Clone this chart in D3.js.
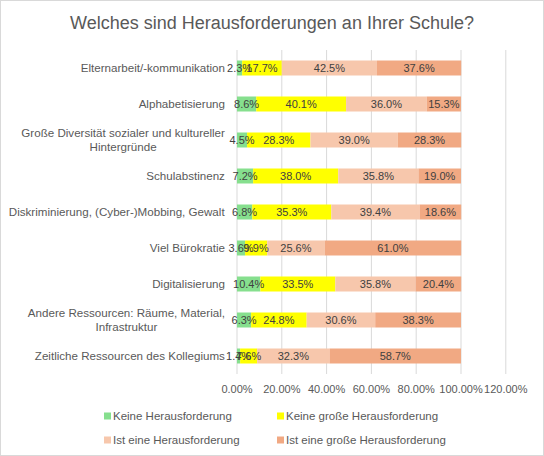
<!DOCTYPE html>
<html><head><meta charset="utf-8">
<script src="https://cdn.jsdelivr.net/npm/d3@7"></script>
<style>
html,body{margin:0;padding:0;background:#fff;}
svg{display:block;font-family:"Liberation Sans",Arial,sans-serif;}
</style></head>
<body>
<svg id="chart" width="544" height="456"></svg>
<script>
const title = "Welches sind Herausforderungen an Ihrer Schule?";
const categories = [
  ["Elternarbeit/-kommunikation"],
  ["Alphabetisierung"],
  ["Große Diversität sozialer und kultureller", "Hintergründe"],
  ["Schulabstinenz"],
  ["Diskriminierung, (Cyber-)Mobbing, Gewalt"],
  ["Viel Bürokratie"],
  ["Digitalisierung"],
  ["Andere Ressourcen: Räume, Material,", "Infrastruktur"],
  ["Zeitliche Ressourcen des Kollegiums"]
];
const seriesNames = ["Keine Herausforderung", "Keine große Herausforderung", "Ist eine Herausforderung", "Ist eine große Herausforderung"];
const seriesColors = ["#86DF8E", "#FFFF00", "#F7C7AC", "#F1A983"];
const keineHerausforderung     = [2.3, 8.6, 4.5, 7.2, 6.8, 3.6, 10.4, 6.3, 1.4];
const keineGrosseHerausforderung = [17.7, 40.1, 28.3, 38.0, 35.3, 9.9, 33.5, 24.8, 7.6];
const istEineHerausforderung   = [42.5, 36.0, 39.0, 35.8, 39.4, 25.6, 35.8, 30.6, 32.3];
const istEineGrosseHerausforderung = [37.6, 15.3, 28.3, 19.0, 18.6, 61.0, 20.4, 38.3, 58.7];
const tickValues = [0, 20, 40, 60, 80, 100, 120];

const svg = d3.select("#chart");
svg.append("rect").attr("x",0.5).attr("y",0.5).attr("width",543).attr("height",455)
  .attr("fill","#fff").attr("stroke","#d9d9d9");

svg.append("text").attr("x",272).attr("y",29).attr("text-anchor","middle")
  .attr("font-size",18).attr("fill","#595959").text(title);

const rows = categories.map((c,i)=>({
  key: c.join(" "), lines: c,
  s0: keineHerausforderung[i], s1: keineGrosseHerausforderung[i],
  s2: istEineHerausforderung[i], s3: istEineGrosseHerausforderung[i]
}));

const x = d3.scaleLinear().domain([0,120]).range([237, 505.8]);
const y = d3.scaleBand().domain(rows.map(r=>r.key)).range([50,374])
  .paddingInner(21/36).paddingOuter(21/72);

// gridlines
svg.append("g").selectAll("line").data(tickValues).join("line")
  .attr("x1",d=>x(d)).attr("x2",d=>x(d)).attr("y1",50).attr("y2",374)
  .attr("stroke","#d9d9d9").attr("stroke-width",1);

// x tick labels
svg.append("g").selectAll("text").data(tickValues).join("text")
  .attr("x",d=>x(d)).attr("y",393).attr("text-anchor","middle")
  .attr("font-size",11).attr("fill","#595959")
  .text(d=>d3.format(".2f")(d)+"%");

const stack = d3.stack().keys(["s0","s1","s2","s3"]);
const stacked = stack(rows);

const g = svg.append("g");
stacked.forEach((layer,li)=>{
  g.append("g").selectAll("rect").data(layer).join("rect")
    .attr("x",d=>x(d[0])).attr("width",d=>x(d[1])-x(d[0]))
    .attr("y",d=>y(d.data.key)).attr("height",y.bandwidth())
    .attr("fill",seriesColors[li]);
});
stacked.forEach((layer,li)=>{
  g.append("g").selectAll("text").data(layer).join("text")
    .attr("x",d=>(x(d[0])+x(d[1]))/2)
    .attr("y",d=>y(d.data.key)+y.bandwidth()/2+4)
    .attr("text-anchor","middle").attr("font-size",11).attr("fill","#404040")
    .text(d=>d3.format(".1f")(d[1]-d[0])+"%");
});

// category labels
const lab = svg.append("g");
rows.forEach(r=>{
  const cy = y(r.key)+y.bandwidth()/2;
  const n = r.lines.length;
  const t = lab.append("text").attr("font-size",11.6).attr("fill","#595959");
  r.lines.forEach((line,k)=>{
    t.append("tspan").attr("x",0).attr("y",cy+4+(k-(n-1)/2)*14.5).attr("text-anchor","middle").text(line);
  });
  const bb = t.node().getBBox();
  t.attr("transform",`translate(${225 - bb.width/2},0)`);
});

// legend
const legendPos = [[104,416],[277,416],[104,440],[277,440]];
const lg = svg.append("g");
seriesNames.forEach((name,i)=>{
  const [lx,ly] = legendPos[i];
  lg.append("rect").attr("x",lx).attr("y",ly-3.5).attr("width",7).attr("height",7).attr("fill",seriesColors[i]);
  lg.append("text").attr("x",lx+9).attr("y",ly+4).attr("font-size",11.5).attr("fill","#595959").text(name);
});
</script>
</body></html>
